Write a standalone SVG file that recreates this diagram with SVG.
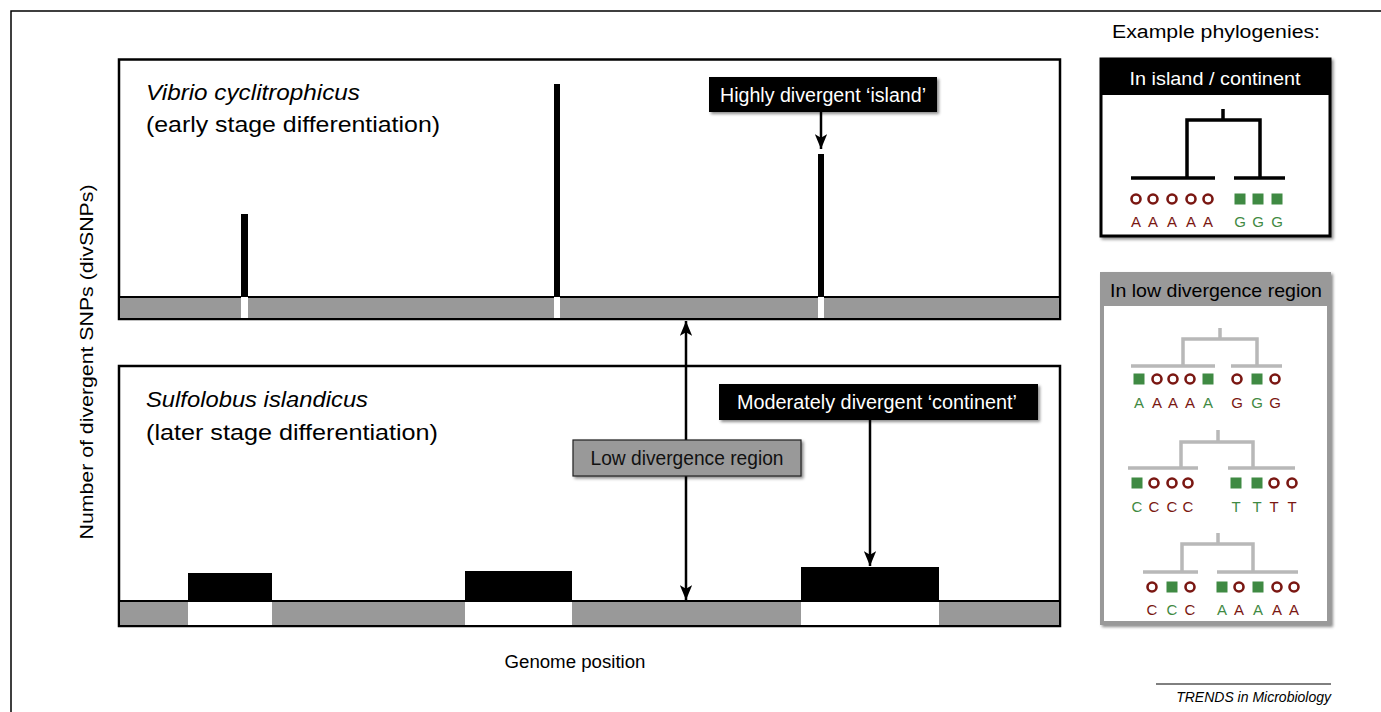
<svg xmlns="http://www.w3.org/2000/svg" width="1381" height="712" viewBox="0 0 1381 712">
<defs>
<style>
.t{font-family:"Liberation Sans","Open Sans",sans-serif;}
.lbl{font-family:"Liberation Sans","Open Sans",sans-serif;font-size:20px;}
.box{fill:#fff;stroke:#000;stroke-width:2.5;}
.bar{fill:#999;stroke:#000;stroke-width:2;}
.conn{stroke:#000;stroke-width:2.5;fill:none;}
.tk{stroke:#000;stroke-width:3.5;fill:none;}
.tg{stroke:#b8b8b8;stroke-width:3.5;fill:none;}
.c{fill:#fff;stroke:#7a1712;stroke-width:2.6;}
.s{fill:#3f8a43;}
.lr{fill:#7a1712;font-family:"Liberation Sans",sans-serif;font-size:15px;text-anchor:middle;}
.lg{fill:#3f8a43;font-family:"Liberation Sans",sans-serif;font-size:15px;text-anchor:middle;}
</style>
<marker id="ah" viewBox="0 0 12 10" refX="12" refY="5" markerWidth="6" markerHeight="5" orient="auto-start-reverse" markerUnits="strokeWidth">
<path d="M0,0 L12,5 L0,10 L3,5 Z" fill="#000"/>
</marker>
<filter id="sh" x="-10%" y="-20%" width="130%" height="160%">
<feDropShadow dx="2" dy="2" stdDeviation="1.5" flood-color="#000" flood-opacity="0.45"/>
</filter>
</defs>
<rect width="1381" height="712" fill="#fff"/>
<path d="M11,712 V11 H1381" fill="none" stroke="#000" stroke-width="1.5"/>

<text class="t" font-size="18" x="1216" y="38" text-anchor="middle" textLength="208" lengthAdjust="spacingAndGlyphs">Example phylogenies:</text>
<text class="t" font-size="18" transform="translate(93,362) rotate(-90)" text-anchor="middle" textLength="355" lengthAdjust="spacingAndGlyphs">Number of divergent SNPs (divSNPs)</text>
<text class="t" font-size="18" x="575" y="668" text-anchor="middle" textLength="141" lengthAdjust="spacingAndGlyphs">Genome position</text>

<g id="top-panel">
<rect class="box" x="119" y="59.5" width="941" height="259.5"/>
<rect class="bar" x="119" y="297" width="941" height="22"/>
<rect x="241" y="297" width="7" height="21" fill="#fff"/>
<rect x="554" y="297" width="6" height="21" fill="#fff"/>
<rect x="818" y="297" width="6" height="21" fill="#fff"/>
<rect x="241" y="214" width="7" height="83" fill="#000"/>
<rect x="554" y="84" width="6" height="213" fill="#000"/>
<rect x="818" y="154" width="6" height="143" fill="#000"/>
<text class="t" font-size="22" x="146" y="100" font-style="italic" textLength="214" lengthAdjust="spacingAndGlyphs">Vibrio cyclitrophicus</text>
<text class="t" font-size="22" x="146" y="132" textLength="294" lengthAdjust="spacingAndGlyphs">(early stage differentiation)</text>
</g>

<g id="bottom-panel">
<rect class="box" x="119" y="366" width="941" height="260"/>
<rect class="bar" x="119" y="601" width="941" height="25"/>
<rect x="188" y="602" width="84" height="23" fill="#fff"/>
<rect x="465" y="602" width="107" height="23" fill="#fff"/>
<rect x="801" y="602" width="138" height="23" fill="#fff"/>
<rect x="188" y="573" width="84" height="29" fill="#000"/>
<rect x="465" y="571" width="107" height="31" fill="#000"/>
<rect x="801" y="567" width="138" height="35" fill="#000"/>
<text class="t" font-size="22" x="146" y="407" font-style="italic" textLength="222" lengthAdjust="spacingAndGlyphs">Sulfolobus islandicus</text>
<text class="t" font-size="22" x="146" y="440" textLength="292" lengthAdjust="spacingAndGlyphs">(later stage differentiation)</text>
</g>

<g id="connectors">
<line class="conn" x1="821" y1="112" x2="821" y2="149" marker-end="url(#ah)"/>
<line class="conn" x1="870" y1="420" x2="870" y2="566" marker-end="url(#ah)"/>
<line class="conn" x1="686" y1="321" x2="686" y2="600" marker-start="url(#ah)" marker-end="url(#ah)"/>
</g>

<g id="label-island">
<rect x="709" y="77" width="228" height="35" fill="#000" filter="url(#sh)"/>
<text class="lbl" x="823" y="102" fill="#fff" text-anchor="middle" textLength="206" lengthAdjust="spacingAndGlyphs">Highly divergent ‘island’</text>
</g>
<g id="label-continent">
<rect x="719" y="384" width="319" height="36" fill="#000" filter="url(#sh)"/>
<text class="lbl" x="877" y="409" fill="#fff" text-anchor="middle" textLength="280" lengthAdjust="spacingAndGlyphs">Moderately divergent ‘continent’</text>
</g>
<g id="label-low">
<rect x="573" y="440" width="228" height="36" fill="#999" stroke="#222" stroke-width="1.2" filter="url(#sh)"/>
<text class="lbl" x="687" y="465" fill="#111" text-anchor="middle" textLength="193" lengthAdjust="spacingAndGlyphs">Low divergence region</text>
</g>

<g id="phylo-island">
<rect x="1101" y="59" width="229" height="177" fill="#fff" stroke="#000" stroke-width="3" filter="url(#sh)"/>
<rect x="1101" y="59" width="229" height="36" fill="#000"/>
<text class="t" font-size="19" x="1215" y="85" fill="#fff" text-anchor="middle" textLength="171" lengthAdjust="spacingAndGlyphs">In island / continent</text>
<path class="tk" d="M1223,109 V120 M1187,178 V120 H1260 V178 M1131,178 H1215 M1234,178 H1285"/>
<circle class="c" cx="1136" cy="199" r="4.5"/>
<circle class="c" cx="1153" cy="199" r="4.5"/>
<circle class="c" cx="1172" cy="199" r="4.5"/>
<circle class="c" cx="1191" cy="199" r="4.5"/>
<circle class="c" cx="1208" cy="199" r="4.5"/>
<rect class="s" x="1234.5" y="193.5" width="11" height="11"/>
<rect class="s" x="1252.5" y="193.5" width="11" height="11"/>
<rect class="s" x="1271.5" y="193.5" width="11" height="11"/>
<text class="lr" x="1136" y="227">A</text>
<text class="lr" x="1153" y="227">A</text>
<text class="lr" x="1172" y="227">A</text>
<text class="lr" x="1191" y="227">A</text>
<text class="lr" x="1208" y="227">A</text>
<text class="lg" x="1240" y="227">G</text>
<text class="lg" x="1258" y="227">G</text>
<text class="lg" x="1277" y="227">G</text>
</g>

<g id="phylo-low">
<rect x="1102" y="274" width="227" height="349" fill="#fff" stroke="#999" stroke-width="4" filter="url(#sh)"/>
<rect x="1100" y="272" width="231" height="34" fill="#999"/>
<text class="t" font-size="19" x="1216" y="297" fill="#000" text-anchor="middle" textLength="212" lengthAdjust="spacingAndGlyphs">In low divergence region</text>

<path class="tg" d="M1220,328 V339 M1183,366 V339 H1257 V366 M1131,366 H1215 M1231,366 H1282"/>
<rect class="s" x="1133.5" y="373.5" width="11" height="11"/>
<circle class="c" cx="1157" cy="379" r="4.5"/>
<circle class="c" cx="1173" cy="379" r="4.5"/>
<circle class="c" cx="1190" cy="379" r="4.5"/>
<rect class="s" x="1202.5" y="373.5" width="11" height="11"/>
<circle class="c" cx="1237" cy="379" r="4.5"/>
<rect class="s" x="1251.5" y="373.5" width="11" height="11"/>
<circle class="c" cx="1275" cy="379" r="4.5"/>
<text class="lg" x="1139" y="408">A</text>
<text class="lr" x="1157" y="408">A</text>
<text class="lr" x="1173" y="408">A</text>
<text class="lr" x="1190" y="408">A</text>
<text class="lg" x="1208" y="408">A</text>
<text class="lr" x="1237" y="408">G</text>
<text class="lg" x="1257" y="408">G</text>
<text class="lr" x="1275" y="408">G</text>

<path class="tg" d="M1218,430 V442 M1181,468 V442 H1253 V468 M1128,468 H1198 M1228,468 H1295"/>
<rect class="s" x="1131.5" y="477.5" width="11" height="11"/>
<circle class="c" cx="1154" cy="483" r="4.5"/>
<circle class="c" cx="1172" cy="483" r="4.5"/>
<circle class="c" cx="1188" cy="483" r="4.5"/>
<rect class="s" x="1230.5" y="477.5" width="11" height="11"/>
<rect class="s" x="1251.5" y="477.5" width="11" height="11"/>
<circle class="c" cx="1274" cy="483" r="4.5"/>
<circle class="c" cx="1292" cy="483" r="4.5"/>
<text class="lg" x="1137" y="512">C</text>
<text class="lr" x="1154" y="512">C</text>
<text class="lr" x="1172" y="512">C</text>
<text class="lr" x="1188" y="512">C</text>
<text class="lg" x="1236" y="512">T</text>
<text class="lg" x="1257" y="512">T</text>
<text class="lr" x="1274" y="512">T</text>
<text class="lr" x="1292" y="512">T</text>

<path class="tg" d="M1218,533 V544 M1182,572 V544 H1253 V572 M1143,572 H1198 M1217,572 H1298"/>
<circle class="c" cx="1152" cy="587" r="4.5"/>
<rect class="s" x="1166.5" y="581.5" width="11" height="11"/>
<circle class="c" cx="1190" cy="587" r="4.5"/>
<rect class="s" x="1216.5" y="581.5" width="11" height="11"/>
<circle class="c" cx="1239" cy="587" r="4.5"/>
<rect class="s" x="1252.5" y="581.5" width="11" height="11"/>
<circle class="c" cx="1277" cy="587" r="4.5"/>
<circle class="c" cx="1294" cy="587" r="4.5"/>
<text class="lr" x="1152" y="615">C</text>
<text class="lg" x="1172" y="615">C</text>
<text class="lr" x="1190" y="615">C</text>
<text class="lg" x="1222" y="615">A</text>
<text class="lr" x="1239" y="615">A</text>
<text class="lg" x="1258" y="615">A</text>
<text class="lr" x="1277" y="615">A</text>
<text class="lr" x="1294" y="615">A</text>
</g>

<g id="footer">
<line x1="1156" y1="684" x2="1331" y2="684" stroke="#000" stroke-width="1"/>
<text class="t" font-size="14" font-style="italic" x="1331" y="702" text-anchor="end">TRENDS in Microbiology</text>
</g>
</svg>
